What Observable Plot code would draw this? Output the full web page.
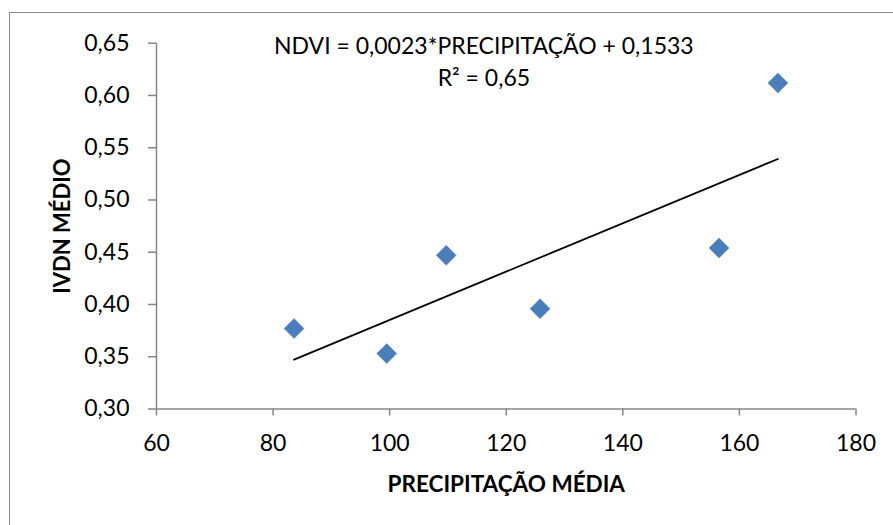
<!DOCTYPE html>
<html>
<head>
<meta charset="utf-8">
<script src="https://cdn.jsdelivr.net/npm/d3@7"></script>
<script src="https://cdn.jsdelivr.net/npm/@observablehq/plot@0.6"></script>
<style>
  html, body { margin: 0; padding: 0; background: #fff; }
  #wrap { position: relative; width: 893px; height: 525px; overflow: hidden; }
  #border { position: absolute; left: 9px; top: 12px; width: 2000px; height: 2000px;
            border-left: 1.5px solid #8c8c8c; border-top: 1.5px solid #8c8c8c; pointer-events: none; }
</style>
</head>
<body>
<div id="wrap"><div id="border"></div></div>
<script>
// Data
const precipitacao = [83.6, 99.5, 109.7, 125.8, 156.5, 166.6];
const ivdn = [0.377, 0.353, 0.447, 0.396, 0.454, 0.612];
const xTicks = [60, 80, 100, 120, 140, 160, 180];
const yTicks = [0.30, 0.35, 0.40, 0.45, 0.50, 0.55, 0.60, 0.65];
const equationLines = ["NDVI = 0,0023*PRECIPITAÇÃO + 0,1533", "R² = 0,65"];
const xTitle = ["PRECIPITAÇÃO MÉDIA"];
const yTitle = ["IVDN MÉDIO"];

const data = precipitacao.map((p, i) => ({p, v: ivdn[i]}));
const axisColor = "#868686";
const font = "Lato, 'Open Sans', sans-serif";
const fmt = d => d.toFixed(2).replace(".", ",");

const chart = Plot.plot({
  width: 893,
  height: 525,
  marginLeft: 156,
  marginRight: 37.5,
  marginTop: 42.7,
  marginBottom: 116.5,
  style: {fontFamily: font, fontSize: "23px", color: "black", background: "transparent"},
  x: {domain: [60, 180]},
  y: {domain: [0.30, 0.65]},
  marks: [
    Plot.axisX({ticks: xTicks, tickSize: 7, tickPadding: 19, stroke: axisColor, strokeWidth: 1.5, fill: "black", label: null, fontSize: 23}),
    Plot.axisY({ticks: yTicks, tickSize: 8, tickPadding: 19, stroke: axisColor, strokeWidth: 1.5, fill: "black", label: null, tickFormat: fmt, fontSize: 23}),
    Plot.ruleX([60], {stroke: axisColor, strokeWidth: 1.5}),
    Plot.ruleY([0.30], {stroke: axisColor, strokeWidth: 1.5}),
    Plot.linearRegressionY(data, {x: "p", y: "v", stroke: "black", strokeWidth: 1.8, ci: 0}),
    Plot.dot(data, {x: "p", y: "v", symbol: "diamond2", r: 9, fill: "#4a7ebb", stroke: "#5a8bc6", strokeWidth: 0.5}),
    Plot.text([equationLines[0]], {text: d => d, frameAnchor: "top", lineAnchor: "middle", textAnchor: "middle", dx: -22.4, dy: 3, fontSize: 23, fill: "black"}),
    Plot.text([equationLines[1]], {text: d => d, frameAnchor: "top", lineAnchor: "middle", textAnchor: "middle", dx: -22.4, dy: 35, fontSize: 23, fill: "black"}),
    Plot.text(xTitle, {text: d => d, frameAnchor: "bottom", lineAnchor: "middle", textAnchor: "middle", dy: 76, fontSize: 22.5, fontWeight: "bold", fill: "black"}),
    Plot.text(yTitle, {text: d => d, frameAnchor: "left", lineAnchor: "middle", textAnchor: "middle", dx: -94, rotate: -90, fontSize: 22, fontWeight: "bold", fill: "black"})
  ]
});
document.getElementById("wrap").prepend(chart);
</script>
</body>
</html>
